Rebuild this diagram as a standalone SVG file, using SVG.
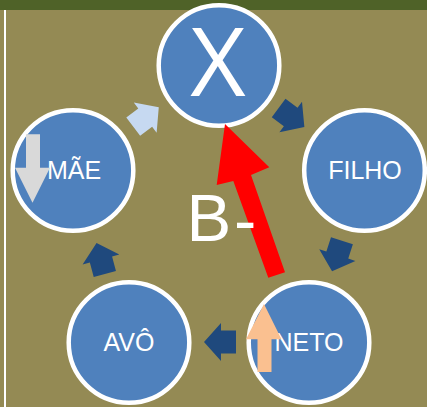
<svg xmlns="http://www.w3.org/2000/svg" xmlns:xlink="http://www.w3.org/1999/xlink" width="427" height="407" viewBox="0 0 427 407">
<style>
.node circle{fill:#4F81BD;stroke:#FFFFFF;stroke-width:4.5}
.lbl{font-family:"Liberation Sans",Arial,sans-serif;font-size:25px;fill:#FFFFFF;text-anchor:middle}
.big{font-family:"Liberation Sans",Arial,sans-serif;fill:#FFFFFF}
.dark{fill:#1F497D}
.light{fill:#C6D9F1}
</style>
<defs>
<path id="arr" d="M-16,-11.5 H-1 V-19 L16,0 L-1,19 V11.5 H-16 Z"/>
</defs>
<rect x="0" y="0" width="427" height="407" fill="#948A54"/>
<rect x="0" y="0" width="427" height="10" fill="#4F6228"/>
<rect x="4" y="10" width="2" height="397" fill="#FFFFFF"/>

<g id="node-x" class="node">
<circle cx="219" cy="65.5" r="60.3"/>
<text x="218" y="96" font-family="'Open Sans','Liberation Sans',sans-serif" font-size="96" fill="#FFFFFF" text-anchor="middle">X</text>
</g>
<g id="node-mae" class="node">
<circle cx="73" cy="170.5" r="60.3"/>
<text class="lbl" x="74" y="179.3">MÃE</text>
</g>
<g id="node-filho" class="node">
<circle cx="364.5" cy="170.5" r="60.3"/>
<text class="lbl" x="365" y="179.3">FILHO</text>
</g>
<g id="node-avo" class="node">
<circle cx="129" cy="342.5" r="60.3"/>
<text class="lbl" x="129" y="351">AVÔ</text>
</g>
<g id="node-neto" class="node">
<circle cx="309" cy="342.5" r="60.3"/>
<text class="lbl" x="309" y="351">NETO</text>
</g>

<g id="marker-mae">
<polygon points="26,134.3 40,134.3 40,167.7 50,167.7 32.5,202.7 15,167.7 26,167.7" fill="#D9D9D9"/>
</g>
<g id="marker-neto">
<polygon points="264,304 281.5,339.3 271.5,339.3 271.5,372 257.5,372 257.5,339.3 246,339.3" fill="#FAC090"/>
</g>

<g id="connectors">
<use xlink:href="#arr" href="#arr" class="light" transform="translate(146,117) rotate(-37)"/>
<use xlink:href="#arr" href="#arr" class="dark" transform="translate(291.5,117.5) rotate(36.5)"/>
<use xlink:href="#arr" href="#arr" class="dark" transform="translate(337,256) rotate(108)"/>
<use xlink:href="#arr" href="#arr" class="dark" transform="translate(220,342) rotate(180)"/>
<use xlink:href="#arr" href="#arr" class="dark" transform="translate(100.7,258.5) rotate(-105)"/>
<polygon points="225,124 269.3,167.3 251,175 285,272.3 268.3,277.7 233.3,181 216.7,185" fill="#FF0000"/>
</g>

<g id="label-b">
<text class="big" x="186.5 234" y="240.7 243.3" font-size="67">B-</text>
</g>
</svg>
